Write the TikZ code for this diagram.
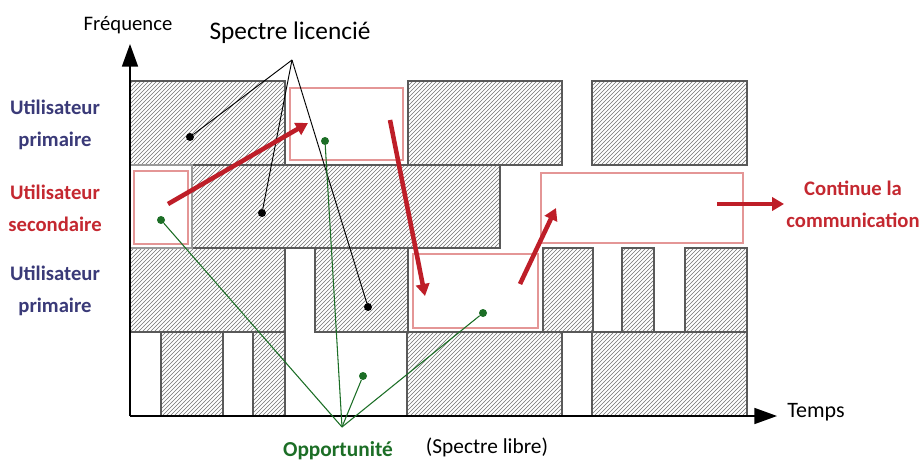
\documentclass[tikz,border=0pt]{standalone}
\usepackage{fontspec}
\setmainfont{Carlito}
\usetikzlibrary{arrows.meta,positioning,calc,patterns}

\definecolor{primblue}{RGB}{58,58,120}
\definecolor{secred}{RGB}{196,40,48}
\definecolor{arrred}{RGB}{190,30,40}
\definecolor{boxred}{RGB}{228,150,150}
\definecolor{oppgreen}{RGB}{28,110,38}

\begin{document}
\begin{tikzpicture}[x=0.75pt, y=-0.75pt, >=Stealth,
  busy/.style={draw=black!65, line width=0.9pt, pattern=north east lines, pattern color=black!55},
  freebox/.style={draw=boxred, line width=1.3pt, fill=white},
  bdot/.style={circle, fill=black, inner sep=0pt, minimum size=6pt},
  gdot/.style={circle, fill=oppgreen, inner sep=0pt, minimum size=6pt},
  userlbl/.style={align=center, font=\fontsize{15.5}{24}\selectfont\bfseries},
  hop/.style={line width=3.4pt, draw=arrred, -{Triangle[length=9pt,width=10pt]}},
  axis/.style={line width=1.3pt, -{Triangle[length=17pt,width=12pt]}}]
\useasboundingbox (0,0) rectangle (920,470);

\foreach \xa/\ya/\xb/\yb in {130/81/285/165, 408/81/562/165, 592/81/747/165,
  192/165/500/248,
  130/248/285/332, 315/248/408/332, 543/248/593/332, 622/248/654/332, 685/248/747/332,
  161/332/223/416, 253/332/285/416, 407/332/562/416, 592/332/747/416}
  \draw[busy] (\xa,\ya) rectangle (\xb,\yb);

\draw[draw=black!40, line width=0.8pt] (130,165) rectangle (192,248);
\draw[freebox] (134,171) rectangle (188,244);
\draw[freebox] (290,88) rectangle (403,160);
\draw[freebox] (413,254) rectangle (538,328);
\draw[freebox] (541,173) rectangle (743,243);

\coordinate (O) at (130,416);
\coordinate (ftop) at (130,44);
\coordinate (tend) at (777,416);
\draw[axis] (O) -- (ftop);
\draw[axis] (O) -- (tend);

\node (freq) at (128,25) {\fontsize{15.5}{18}\selectfont Fréquence};
\node (temps) at (816,412) {\fontsize{16.5}{18}\selectfont Temps};
\node (lic) at (290,33) {\fontsize{19}{22}\selectfont Spectre licencié};
\node (libre) at (487,447) {\fontsize{16}{18}\selectfont (Spectre libre)};
\node (opp) at (338,451) {\fontsize{16}{18}\selectfont\bfseries\color{oppgreen}Opportunité};

\node (pu1) [userlbl, text=primblue] at (55,125) {Utilisateur\\primaire};
\node (su) [userlbl, text=secred] at (55,208) {Utilisateur\\secondaire};
\node (pu2) [userlbl, text=primblue] at (55,291) {Utilisateur\\primaire};
\node (cont) [userlbl, text=secred] at (853,204) {Continue la\\communication};

\coordinate (licpt) at (292,60);
\node (d1) [bdot] at (190,137) {};
\node (d2) [bdot] at (262,213) {};
\node (d3) [bdot] at (368,307) {};
\foreach \d in {d1,d2,d3}
  \draw[line width=0.7pt] (licpt) -- (\d);

\coordinate (opppt) at (342,427);
\node (g1) [gdot] at (161,220) {};
\node (g2) [gdot] at (325,141) {};
\node (g3) [gdot] at (363,376) {};
\node (g4) [gdot] at (483,313) {};
\foreach \g in {g1,g2,g3,g4}
  \draw[oppgreen, line width=0.8pt] (opppt) -- (\g);

\coordinate (h1a) at (168,204);
\coordinate (h1b) at (308,123);
\coordinate (h2a) at (390,120);
\coordinate (h2b) at (425,296);
\coordinate (h3a) at (520,284);
\coordinate (h3b) at (556,208);
\coordinate (h4a) at (717,204);
\coordinate (h4b) at (784,204);
\draw[hop] (h1a) -- (h1b);
\draw[hop] (h2a) -- (h2b);
\draw[hop] (h3a) -- (h3b);
\draw[hop] (h4a) -- (h4b);
\end{tikzpicture}
\end{document}
